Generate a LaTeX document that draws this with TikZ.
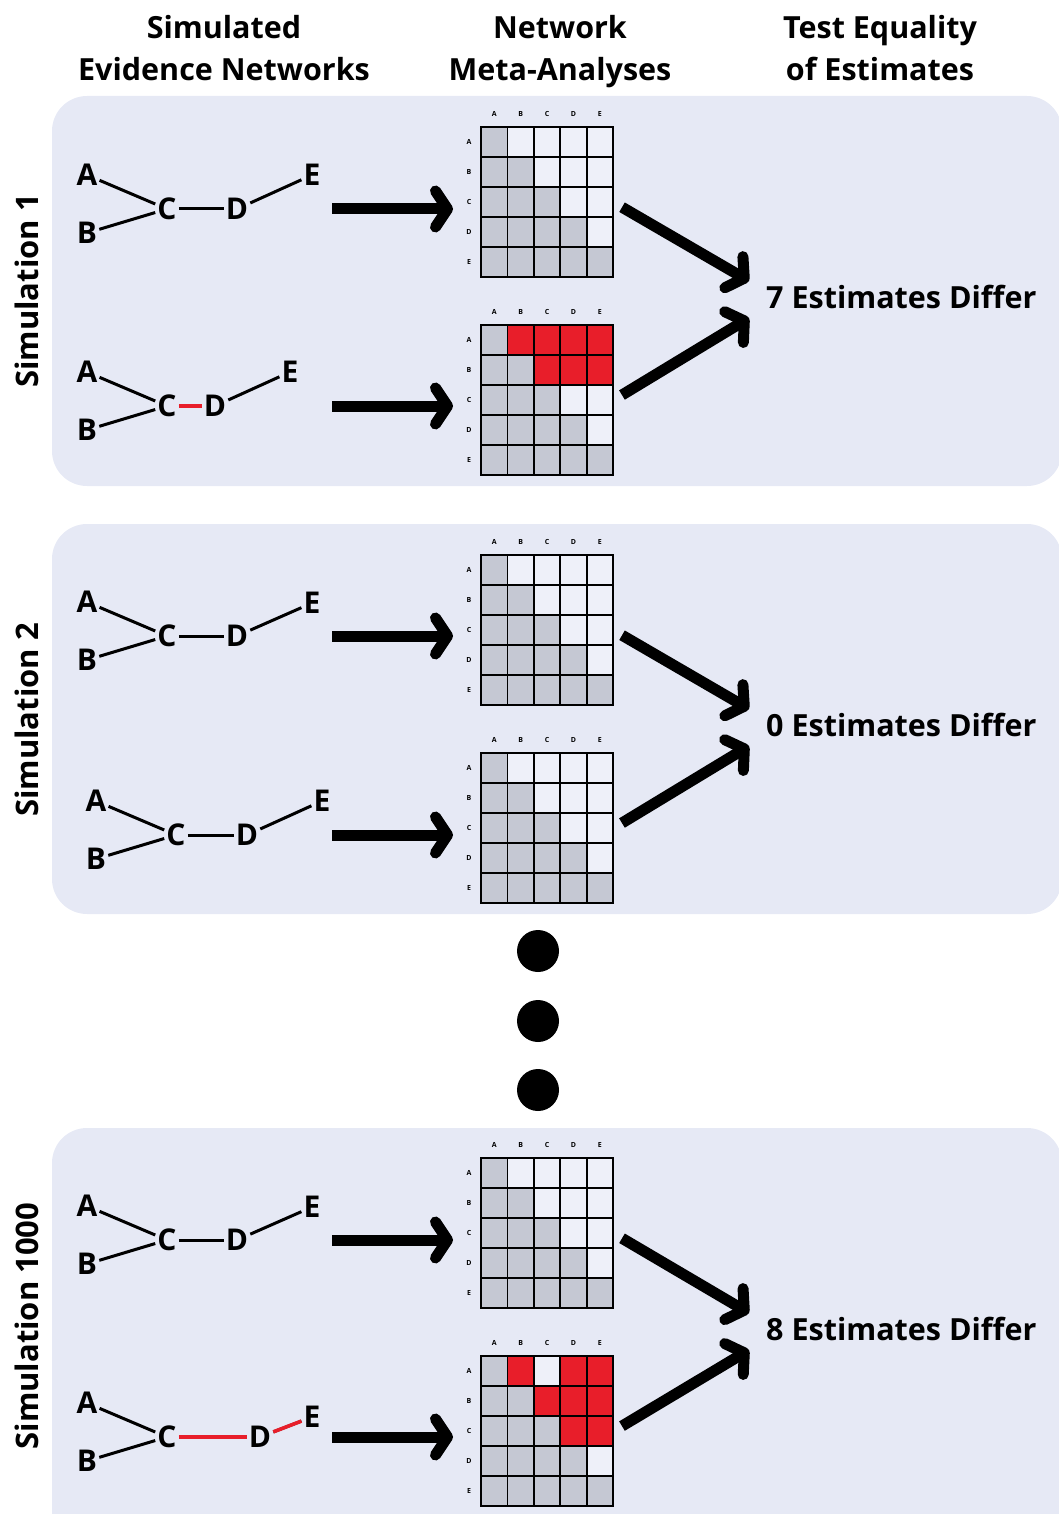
\documentclass[tikz,border=0pt]{standalone}
\usepackage{fontspec}
\setmainfont{Open Sans}
\usetikzlibrary{arrows.meta}

\definecolor{panelbg}{HTML}{E6E9F5}
\definecolor{cellgray}{HTML}{C5C8D3}
\definecolor{cellwhite}{HTML}{EEF0F9}
\definecolor{diffred}{HTML}{E81E2A}

\tikzset{
  colhead/.style={font=\fontsize{30.5}{42}\selectfont\bfseries, align=center, anchor=north},
  simlabel/.style={font=\fontsize{31}{32}\selectfont\bfseries, rotate=90},
  result/.style={font=\fontsize{30.5}{32}\selectfont\bfseries, anchor=west, inner sep=0pt},
  trt/.style={font=\fontsize{30}{30}\selectfont\bfseries, inner sep=2pt},
  tiny/.style={font=\fontsize{7}{8}\selectfont\bfseries, inner sep=0pt},
  edge/.style={line width=3pt},
  redge/.style={line width=3.6pt, diffred},
  panel/.style={fill=panelbg, rounded corners=35pt},
  cell/.style={draw=black, line width=1.8pt},
  bigarrow/.style={line width=11pt, -{Straight Barb[round, length=12pt, width=36pt]}},
  nmabox/.style={minimum width=132pt, minimum height=150pt, inner sep=0pt, anchor=north west}
}

\begin{document}
\begin{tikzpicture}[x=1pt, y=-1pt]
  \useasboundingbox (0,0) rectangle (1059,1514);

  % background panels
  \fill [panel] (52,96) rectangle (1062,486);
  \fill [panel] (52,524) rectangle (1062,914);
  \fill [panel] (52,1128) rectangle (1062,1545);

  % column headings
  \node [colhead] (hsim) at (224,12) {Simulated\\Evidence Networks};
  \node [colhead] (hnma) at (560,12) {Network\\Meta-Analyses};
  \node [colhead] (htest) at (880,12) {Test Equality\\of Estimates};

  \node [simlabel] (s1) at (27,291) {Simulation 1};
  \node [simlabel] (s2) at (27,720) {Simulation 2};
  \node [simlabel] (s3) at (27,1326) {Simulation 1000};

  % evidence networks
  \foreach \n/\ox/\oy/\dx/\ex/\ey in {1a/87/175/237/312/175, 1b/87/372/215/290/372,
      2a/87/602/237/312/603, 2b/96/801/247/322/801,
      3a/87/1206/237/312/1207, 3b/87/1403/260/312/1417} {
    \node [trt] (A\n) at (\ox,\oy) {A};
    \node [trt] (B\n) at (\ox,\oy+58) {B};
    \node [trt] (C\n) at (\ox+80,\oy+34) {C};
    \node [trt] (D\n) at (\dx,\oy+34) {D};
    \node [trt] (E\n) at (\ex,\ey) {E};
    \draw [edge] (A\n) -- (C\n);
    \draw [edge] (B\n) -- (C\n);
    \draw [edge] (C\n) -- (D\n);
    \draw [edge] (D\n) -- (E\n);
  }
  \draw [redge] (C1b) -- (D1b);
  \draw [redge] (C3b) -- (D3b);
  \draw [redge] (D3b) -- (E3b);

  % league tables
  \foreach \n/\gy in {1a/127, 1b/325, 2a/555, 2b/753, 3a/1158, 3b/1356} {
    \node [nmabox] (M\n) at (481,\gy) {};
    \foreach \r in {0,...,4}
      \foreach \c in {0,...,4}
        \filldraw [cell, fill=cellwhite] (481+26.4*\c,\gy+30*\r) rectangle ++(26.4,30);
    \foreach \r in {0,...,4}
      \foreach \c in {0,...,\r}
        \filldraw [cell, fill=cellgray] (481+26.4*\c,\gy+30*\r) rectangle ++(26.4,30);
    \foreach \l [count=\i from 0] in {A,B,C,D,E} {
      \node [tiny] at (494.2+26.4*\i,\gy-13) {\l};
      \node [tiny] at (469,\gy+15+30*\i) {\l};
    }
  }
  % estimates that differ
  \foreach \gy/\r/\c in {325/0/1, 325/0/2, 325/0/3, 325/0/4, 325/1/2, 325/1/3, 325/1/4,
      1356/0/1, 1356/0/3, 1356/0/4, 1356/1/2, 1356/1/3, 1356/1/4, 1356/2/3, 1356/2/4}
    \filldraw [cell, fill=diffred] (481+26.4*\c,\gy+30*\r) rectangle ++(26.4,30);

  % results
  \node [result] (r1) at (766,297) {7 Estimates Differ};
  \node [result] (r2) at (766,725) {0 Estimates Differ};
  \node [result] (r3) at (766,1329) {8 Estimates Differ};

  % arrows
  \foreach \n in {1a,1b,2a,2b,3a,3b} {
    \coordinate (a\n) at (332,0 |- D\n.center);
    \draw [bigarrow] (a\n) -- ([xshift=-28pt]a\n -| M\n.west);
  }
  \foreach \n/\r in {1/1, 2/2, 3/3} {
    \draw [bigarrow, shorten <=10pt] (M\n a.east) -- ([shift={(-17,-16)}]r\r.west);
    \draw [bigarrow, shorten <=10pt] (M\n b.east) -- ([shift={(-17,21)}]r\r.west);
  }

  % more simulations
  \fill (538,951) circle (21);
  \fill (538,1021) circle (21);
  \fill (538,1090) circle (21);
\end{tikzpicture}
\end{document}
